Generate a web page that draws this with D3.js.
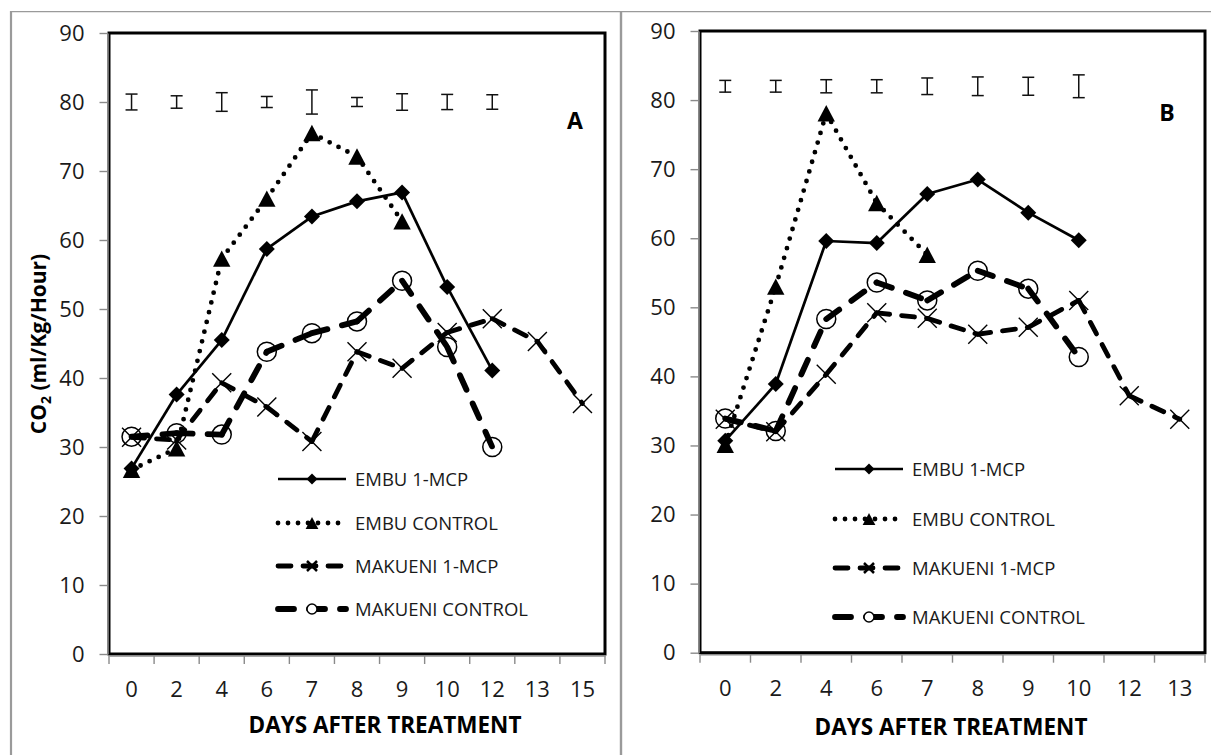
<!DOCTYPE html>
<html>
<head>
<meta charset="utf-8">
<script src="https://cdn.jsdelivr.net/npm/d3@7"></script>
<style>
  html, body { margin: 0; padding: 0; background: #fff; }
  svg { display: block; }
</style>
</head>
<body>
<svg id="chart" width="1211" height="755"></svg>
<script>
// ---- data -------------------------------------------------------------
const daysA = ["0", "2", "4", "6", "7", "8", "9", "10", "12", "13", "15"];
const daysB = ["0", "2", "4", "6", "7", "8", "9", "10", "12", "13"];
const yTicks = [0, 10, 20, 30, 40, 50, 60, 70, 80, 90];
const seriesNames = ["EMBU 1-MCP", "EMBU CONTROL", "MAKUENI 1-MCP", "MAKUENI CONTROL"];

// Panel A: CO2 production (ml/Kg/Hour)
const embuMcpA  = [26.9, 37.6, 45.5, 58.7, 63.4, 65.6, 66.9, 53.2, 41.1];
const embuCtrlA = [26.7, 29.8, 57.3, 66.0, 75.5, 72.1, 62.7];
const makMcpA   = [31.4, 31.0, 39.3, 35.8, 30.8, 43.8, 41.4, 46.6, 48.6, 45.3, 36.3];
const makCtrlA  = [31.5, 32.0, 31.8, 43.8, 46.5, 48.2, 54.1, 44.5, 30.0];
const errMidA   = 80;
const errHalfA  = [1.15, 0.9, 1.35, 0.8, 1.75, 0.65, 1.2, 1.1, 1.05];

// Panel B
const embuMcpB  = [30.7, 38.9, 59.6, 59.3, 66.4, 68.5, 63.7, 59.7];
const embuCtrlB = [30.1, 53.0, 78.1, 65.1, 57.6];
const makMcpB   = [33.8, 32.0, 40.3, 49.2, 48.4, 46.1, 47.1, 51.0, 37.2, 33.8];
const makCtrlB  = [33.9, 32.1, 48.3, 53.6, 51.0, 55.3, 52.7, 42.8];
const errMidB   = 82;
const errHalfB  = [0.85, 0.85, 0.95, 0.95, 1.2, 1.35, 1.3, 1.65];

// ---- marker shapes ----------------------------------------------------
const diamondSym = { draw(ctx, r) { ctx.moveTo(0, -r); ctx.lineTo(r, 0); ctx.lineTo(0, r); ctx.lineTo(-r, 0); ctx.closePath(); } };
const triangleSym = { draw(ctx, r) { ctx.moveTo(0, -r); ctx.lineTo(r * 1.06, r); ctx.lineTo(-r * 1.06, r); ctx.closePath(); } };
const crossSym = { draw(ctx, r) { ctx.moveTo(-r, -r); ctx.lineTo(r, r); ctx.moveTo(r, -r); ctx.lineTo(-r, r); } };
const circleSym = { draw(ctx, r) { ctx.moveTo(r, 0); ctx.arc(0, 0, r, 0, 2 * Math.PI); } };

function symbolPath(type, r) {
  const p = d3.path();
  type.draw(p, r);
  return p.toString();
}

// line + marker styling per series
const styles = [
  { width: 2.7, dash: null,    cap: "butt",  sym: diamondSym,  r: 8,   fill: "#000", stroke: "none", sw: 0,   lr: 5.5, lfill: "#000", lstroke: "none", lsw: 0 },
  { width: 4.8, dash: "0 10",  cap: "round", sym: triangleSym, r: 8.2, fill: "#000", stroke: "none", sw: 0,   lr: 6,   lfill: "#000", lstroke: "none", lsw: 0 },
  { width: 4.8, dash: "13 12", cap: "round", sym: crossSym,    r: 9.5, fill: "none", stroke: "#000", sw: 1.4, lr: 5,   lfill: "none", lstroke: "#000", lsw: 2.5 },
  { width: 5.8, dash: "16 15", cap: "round", sym: circleSym,   r: 9.5, fill: "none", stroke: "#000", sw: 1.5, lr: 5,   lfill: "#fff", lstroke: "#000", lsw: 1.5 }
];

const FONT = "'Open Sans', 'Noto Sans', sans-serif";
const AXIS_GREY = "#8a8a8a";
const svg = d3.select("#chart");

// ---- figure frame -----------------------------------------------------
svg.append("line").attr("x1", 11).attr("y1", 11).attr("x2", 11).attr("y2", 755)
  .attr("stroke", "#9a9a9a").attr("stroke-width", 2.2);
svg.append("line").attr("x1", 10).attr("y1", 11.6).attr("x2", 1211).attr("y2", 11.6)
  .attr("stroke", "#9a9a9a").attr("stroke-width", 1.4);
svg.append("line").attr("x1", 621).attr("y1", 11).attr("x2", 621).attr("y2", 755)
  .attr("stroke", "#9a9a9a").attr("stroke-width", 2.4);

// ---- one panel --------------------------------------------------------
function drawPanel(cfg) {
  const g = svg.append("g");
  const x = d3.scaleBand().domain(cfg.days).range([cfg.x0, cfg.x1]).padding(0);
  const y = d3.scaleLinear().domain([0, 90]).range([cfg.bottom, cfg.top]);
  const cx = d => x(d) + x.bandwidth() / 2;

  // plot border
  g.append("rect")
    .attr("x", cfg.x0).attr("y", cfg.top)
    .attr("width", cfg.x1 - cfg.x0).attr("height", cfg.bottom - cfg.top)
    .attr("fill", "none").attr("stroke", "#000").attr("stroke-width", 3);

  // y axis
  const yAxis = g.append("g")
    .attr("transform", `translate(${cfg.x0 - 1.5},0)`)
    .call(d3.axisLeft(y).tickValues(yTicks).tickSize(8).tickSizeOuter(0).tickPadding(15));
  yAxis.select(".domain").attr("stroke", AXIS_GREY).attr("stroke-width", 1.6);
  yAxis.selectAll(".tick line").attr("stroke", AXIS_GREY).attr("stroke-width", 1.4);
  yAxis.selectAll(".tick text")
    .attr("font-family", FONT).attr("font-size", 22).attr("fill", "#1a1a1a");

  // x axis: labels centred in each band, tick marks on band edges
  const xAxis = g.append("g")
    .attr("transform", `translate(0,${cfg.bottom + 1.5})`)
    .call(d3.axisBottom(x).tickSize(0).tickSizeOuter(0).tickPadding(26));
  xAxis.select(".domain").attr("stroke", AXIS_GREY).attr("stroke-width", 1.6);
  xAxis.selectAll(".tick text")
    .attr("font-family", FONT).attr("font-size", 22).attr("fill", "#1a1a1a");
  const edges = cfg.days.map(d => x(d)).concat([cfg.x1]);
  g.append("g").selectAll("line").data(edges).join("line")
    .attr("x1", d => d).attr("x2", d => d)
    .attr("y1", cfg.bottom + 1.5).attr("y2", cfg.bottom + 10)
    .attr("stroke", AXIS_GREY).attr("stroke-width", 1.4);

  // error bars
  const eb = g.append("g").attr("stroke", "#111").attr("stroke-width", 1.5);
  cfg.errHalf.forEach((h, i) => {
    const xc = cx(cfg.days[i]);
    const yt = y(cfg.errMid + h), yb = y(cfg.errMid - h);
    eb.append("line").attr("x1", xc).attr("x2", xc).attr("y1", yt).attr("y2", yb);
    eb.append("line").attr("x1", xc - 6).attr("x2", xc + 6).attr("y1", yt).attr("y2", yt);
    eb.append("line").attr("x1", xc - 6).attr("x2", xc + 6).attr("y1", yb).attr("y2", yb);
  });

  // series lines (dash pattern restarts at every point) and markers
  const line = d3.line().x(d => d[0]).y(d => d[1]);
  cfg.series.forEach((vals, si) => {
    const st = styles[si];
    const pts = vals.map((v, i) => [cx(cfg.days[i]), y(v)]);
    const sg = g.append("g");
    d3.pairs(pts).forEach(seg => {
      const p = sg.append("path").attr("d", line(seg))
        .attr("fill", "none").attr("stroke", "#000")
        .attr("stroke-width", st.width).attr("stroke-linecap", st.cap);
      if (st.dash) p.attr("stroke-dasharray", st.dash);
    });
    sg.selectAll(".mk").data(pts).join("path")
      .attr("class", "mk")
      .attr("transform", d => `translate(${d[0]},${d[1]})`)
      .attr("d", symbolPath(st.sym, st.r))
      .attr("fill", st.fill).attr("stroke", st.stroke).attr("stroke-width", st.sw);
  });

  // legend
  const lg = g.append("g");
  seriesNames.forEach((name, si) => {
    const st = styles[si];
    const ly = cfg.legY[si];
    const a = cfg.legX, b = cfg.legX + 68, m = (a + b) / 2;
    const p = lg.append("path").attr("d", line([[a, ly], [b, ly]]))
      .attr("fill", "none").attr("stroke", "#000")
      .attr("stroke-width", st.width).attr("stroke-linecap", st.cap);
    if (st.dash) p.attr("stroke-dasharray", st.dash);
    lg.append("path").attr("transform", `translate(${m},${ly})`)
      .attr("d", symbolPath(st.sym, st.lr))
      .attr("fill", st.lfill).attr("stroke", st.lstroke).attr("stroke-width", st.lsw);
    lg.append("text").attr("x", b + 9).attr("y", ly).attr("dy", "0.36em")
      .attr("font-family", FONT).attr("font-size", 18.5).attr("fill", "#1a1a1a")
      .text(name);
  });

  // panel letter
  g.append("text").attr("x", cfg.letter[1]).attr("y", cfg.letter[2])
    .attr("text-anchor", "middle").attr("font-family", FONT)
    .attr("font-weight", "bold").attr("font-size", 23).attr("fill", "#000")
    .text(cfg.letter[0]);

  // x title
  g.append("text").attr("x", cfg.xTitle[0]).attr("y", cfg.xTitle[1])
    .attr("text-anchor", "middle").attr("font-family", FONT)
    .attr("font-weight", "bold").attr("font-size", 22.5).attr("fill", "#000")
    .text("DAYS AFTER TREATMENT");

  // y title
  if (cfg.yTitle) {
    const t = g.append("text")
      .attr("transform", `translate(${cfg.yTitle[0]},${cfg.yTitle[1]}) rotate(-90)`)
      .attr("text-anchor", "middle").attr("font-family", FONT)
      .attr("font-weight", "bold").attr("font-size", 21).attr("fill", "#000");
    t.append("tspan").text("CO");
    t.append("tspan").attr("font-size", 14).attr("dy", 5).text("2");
    t.append("tspan").attr("dy", -5).text(" (ml/Kg/Hour)");
  }
}

drawPanel({
  days: daysA, x0: 109, x1: 605, top: 33, bottom: 654,
  series: [embuMcpA, embuCtrlA, makMcpA, makCtrlA],
  errMid: errMidA, errHalf: errHalfA,
  legX: 278, legY: [479, 523, 566, 609],
  letter: ["A", 575, 129],
  xTitle: [385, 733],
  yTitle: [46, 344]
});

drawPanel({
  days: daysB, x0: 700, x1: 1205, top: 31, bottom: 652.7,
  series: [embuMcpB, embuCtrlB, makMcpB, makCtrlB],
  errMid: errMidB, errHalf: errHalfB,
  legX: 835, legY: [469, 519, 568, 617],
  letter: ["B", 1167, 121],
  xTitle: [951, 735],
  yTitle: null
});
</script>
</body>
</html>
